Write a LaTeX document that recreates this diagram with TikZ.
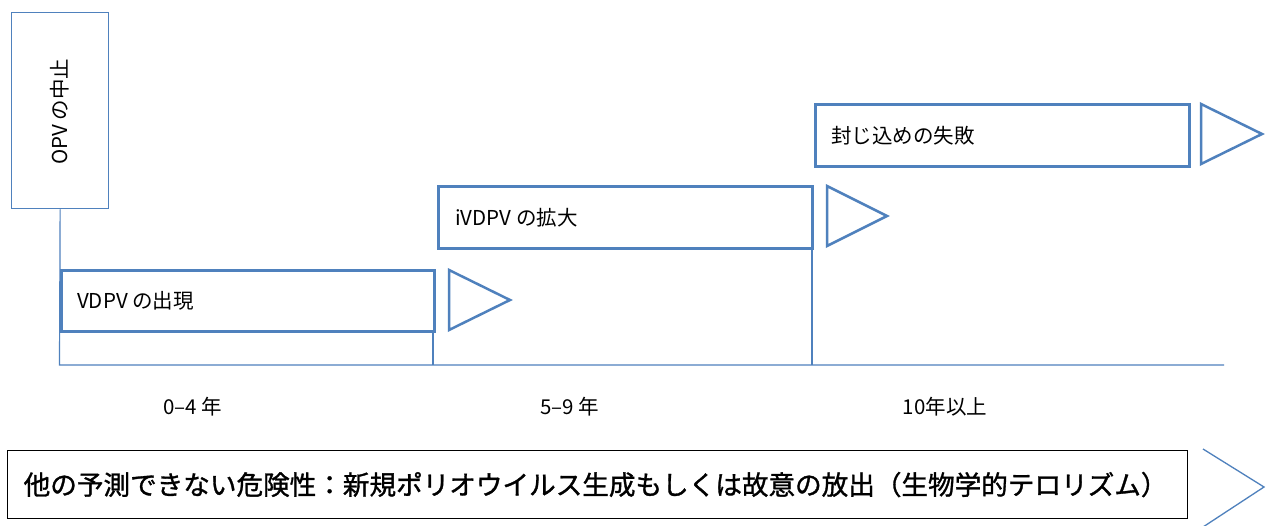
\documentclass[tikz,border=0pt]{standalone}
\usepackage{fontspec}
\setmainfont{Noto Sans CJK JP}
\newfontfamily\cjkb{Noto Sans CJK JP}[FakeBold=1.2]
\definecolor{obl}{HTML}{4F81BD}
\begin{document}
\begin{tikzpicture}[x=1pt,y=-1pt,
  thinbox/.style={draw=obl,line width=1.3pt,fill=white,inner sep=0pt},
  thickbox/.style={draw=obl,line width=3pt,fill=white,inner sep=0pt,anchor=north west},
  tri/.style={draw=obl,line width=2.5pt,line join=miter},
  thinline/.style={draw=obl,line width=1.2pt},
  lbl/.style={font=\fontsize{20.5}{22}\selectfont,inner sep=0pt,anchor=west},
  axlbl/.style={font=\fontsize{20.5}{22}\selectfont,inner sep=0pt}]
\useasboundingbox (0,0) rectangle (1268,526);
\fill[white] (0,0) rectangle (1268,526);
% OPV box
\node[thinbox,minimum width=97pt,minimum height=196pt,anchor=north west] (opv) at (11,12) {};
\node[rotate=90,font=\fontsize{20.5}{22}\selectfont,inner sep=0pt] (opvt) at ([yshift=-1pt]opv.center) {OPV の中止};
% axis
\coordinate (a0) at (59.5,365);
\coordinate (a1) at (433,365);
\coordinate (a2) at (812,365);
\coordinate (aend) at (1224,365);
\draw[thinline] (opv.south) -- (a0) -- (aend);
% boxes
\node[thickbox,minimum width=373pt,minimum height=61pt] (b1) at (60,269) {};
\node[thickbox,minimum width=374pt,minimum height=62pt] (b2) at (437,185) {};
\node[thickbox,minimum width=374pt,minimum height=62pt] (b3) at (814,103) {};
\draw[thinline] (a1 |- b1.south) -- (a1);
\draw[thinline] (a2 |- b2.south) -- (a2);
\node[lbl] (t1) at ([xshift=17pt]b1.west) {VDPV の出現};
\node[lbl] (t2) at ([xshift=18pt]b2.west) {iVDPV の拡大};
\node[lbl] (t3) at ([xshift=17pt]b3.west) {封じ込めの失敗};
% triangles
\draw[tri] (449,270) -- (510,300) -- (449,330) -- cycle;
\draw[tri] (827,186) -- (887,216) -- (827,246) -- cycle;
\draw[tri] (1201,104) -- (1262,134) -- (1201,164) -- cycle;
% axis labels
\node[axlbl] (l1) at (193,407) {0–4 年};
\node[axlbl] (l2) at (570,407) {5–9 年};
\node[axlbl] (l3) at (945,407) {10年以上};
% bottom
\node[draw=black,line width=1.2pt,minimum width=1180pt,minimum height=68pt,anchor=north west,inner sep=0pt] (bb) at (7,450) {};
\node[inner sep=0pt,font=\cjkb\fontsize{26.6}{28}\selectfont] (bt) at ([xshift=-2pt]bb.center) {他の予測できない危険性：新規ポリオウイルス生成もしくは故意の放出（生物学的テロリズム）};
\draw[draw=obl,line width=1.3pt] (1203,449) -- (1264,487) -- (1203,527);
\end{tikzpicture}
\end{document}
